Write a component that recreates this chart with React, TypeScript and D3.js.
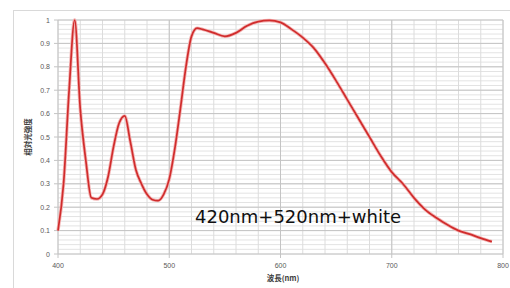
import React from "react";
import * as d3 from "d3";

const wavelengths = [
  400, 405, 410, 415, 420, 425, 430, 435, 440, 445, 450, 455, 460, 465, 470, 475, 480, 485, 490, 495,
  500, 505, 510, 515, 520, 525, 530, 540, 550, 560, 570, 580, 590, 600, 610, 620, 630, 640, 650, 660,
  670, 680, 690, 700, 710, 720, 730, 740, 750, 760, 770, 780, 790,
];
const intensity = [
  0.1, 0.3, 0.7, 1.0, 0.62, 0.4, 0.24, 0.235, 0.255, 0.33, 0.46, 0.56, 0.59, 0.48, 0.36, 0.3, 0.255, 0.232, 0.228, 0.255,
  0.32, 0.45, 0.62, 0.8, 0.93, 0.965, 0.96, 0.945, 0.93, 0.945, 0.975, 0.993, 0.998, 0.99, 0.96, 0.925, 0.88, 0.815, 0.74, 0.66,
  0.58, 0.5, 0.42, 0.35, 0.3, 0.24, 0.19, 0.155, 0.125, 0.1, 0.085, 0.068, 0.053,
];
const xTicks = [400, 500, 600, 700, 800];
const yTicks = [0, 0.1, 0.2, 0.3, 0.4, 0.5, 0.6, 0.7, 0.8, 0.9, 1];
const yLabelText = "相対光強度";
const xLabelText = "波長(nm)";
const noteText = "420nm+520nm+white";

const W = 510;
const H = 288;
const plot = { left: 58, right: 503, top: 20, bottom: 254 };

export default function App() {
  const x = d3.scaleLinear().domain([400, 800]).range([plot.left, plot.right]);
  const y = d3.scaleLinear().domain([0, 1]).range([plot.bottom, plot.top]);

  const minorX = d3.range(400, 801, 20);
  const minorY = d3.range(0, 1.001, 0.02);

  const points: [number, number][] = wavelengths.map((w, i) => [w, intensity[i]]);
  const line = d3
    .line<[number, number]>()
    .x(d => x(d[0]))
    .y(d => y(d[1]))
    .curve(d3.curveMonotoneX);

  const tickFont = "'Liberation Sans', Arial, sans-serif";

  return (
    <svg width={W} height={H} style={{ position: "absolute", left: 0, top: 0, background: "#fff" }}>
      {/* outer frame */}
      <rect x={13.5} y={10.5} width={W} height={H} fill="#fff" stroke="#d9d9d9" />

      {/* minor grid */}
      {minorY.map((v, i) => (
        <line key={"my" + i} x1={plot.left} x2={plot.right} y1={y(v)} y2={y(v)} stroke="#e3e3e3" strokeWidth={1} />
      ))}
      {minorX.map((v, i) => (
        <line key={"mx" + i} x1={x(v)} x2={x(v)} y1={plot.top} y2={plot.bottom} stroke="#dcdcdc" strokeWidth={1} />
      ))}
      {/* major grid */}
      {yTicks.map((v, i) => (
        <line key={"gy" + i} x1={plot.left - 4} x2={plot.right} y1={y(v)} y2={y(v)} stroke="#c4c4c4" strokeWidth={1} />
      ))}
      {xTicks.map((v, i) => (
        <line key={"gx" + i} x1={x(v)} x2={x(v)} y1={plot.top} y2={plot.bottom + 4} stroke="#c4c4c4" strokeWidth={1} />
      ))}

      {/* spectrum */}
      <path d={line(points) ?? ""} fill="none" stroke="#f3b5b5" strokeWidth={3.4} strokeLinejoin="round" />
      <path d={line(points) ?? ""} fill="none" stroke="#d02c2c" strokeWidth={1.7} strokeLinejoin="round" />

      {/* tick labels */}
      {yTicks.map((v, i) => (
        <text key={"ty" + i} x={plot.left - 8} y={y(v) + 2.5} textAnchor="end" fontSize={7} fill="#595959" fontFamily={tickFont}>
          {v === 0 || v === 1 ? String(v) : v.toFixed(1)}
        </text>
      ))}
      {xTicks.map((v, i) => (
        <text key={"tx" + i} x={x(v)} y={plot.bottom + 14} textAnchor="middle" fontSize={7} fill="#595959" fontFamily={tickFont}>
          {v}
        </text>
      ))}

      {/* axis titles */}
      <text
        transform={`translate(31, 137) rotate(-90)`}
        textAnchor="middle"
        fontSize={7.5}
        fontWeight="bold"
        fill="#404040"
        fontFamily="'Noto Sans CJK JP', sans-serif"
      >
        {yLabelText}
      </text>
      <text x={283} y={281} textAnchor="middle" fontSize={7.5} fontWeight="bold" fill="#404040" fontFamily="'Noto Sans CJK JP', sans-serif">
        {xLabelText}
      </text>

      {/* annotation */}
      <text x={195} y={223} fontSize={18} fill="#111" fontFamily="'DejaVu Sans', sans-serif">
        {noteText}
      </text>
    </svg>
  );
}
